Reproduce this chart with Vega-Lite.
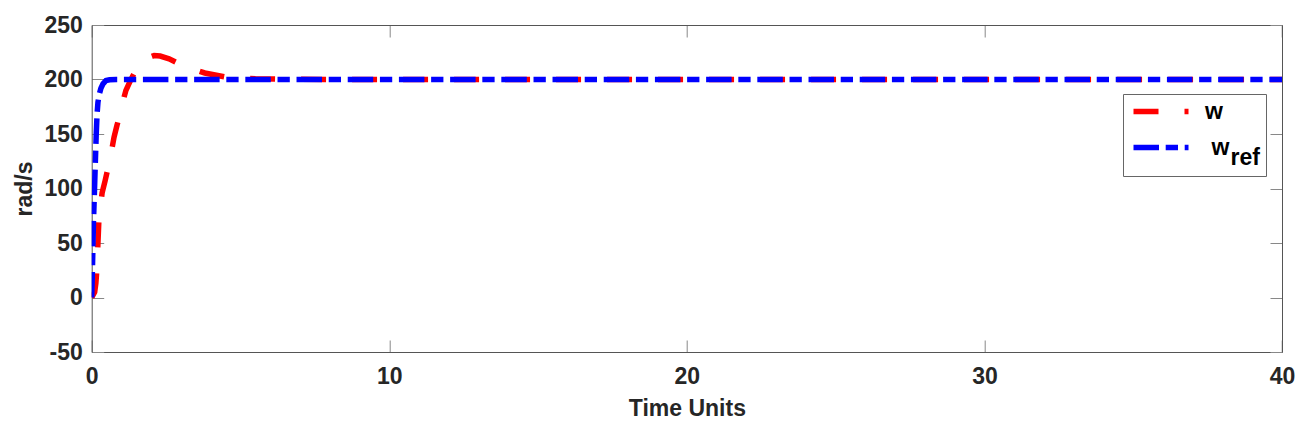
{
  "$schema": "https://vega.github.io/schema/vega-lite/v6.json",
  "width": 1190.3,
  "height": 327,
  "autosize": {"type": "none"},
  "padding": {"left": 91.7, "top": 25, "right": 27, "bottom": 81},
  "background": "white",
  "datasets": {
    "w": [
      {"t": 0, "v": 0, "series": "w"},
      {"t": 0.1, "v": 5, "series": "w"},
      {"t": 0.14, "v": 13, "series": "w"},
      {"t": 0.18, "v": 28, "series": "w"},
      {"t": 0.21, "v": 50, "series": "w"},
      {"t": 0.24, "v": 70, "series": "w"},
      {"t": 0.3, "v": 85, "series": "w"},
      {"t": 0.35, "v": 96, "series": "w"},
      {"t": 0.45, "v": 107, "series": "w"},
      {"t": 0.55, "v": 119, "series": "w"},
      {"t": 0.65, "v": 132, "series": "w"},
      {"t": 0.75, "v": 147, "series": "w"},
      {"t": 0.85, "v": 158, "series": "w"},
      {"t": 0.95, "v": 168, "series": "w"},
      {"t": 1.05, "v": 180, "series": "w"},
      {"t": 1.15, "v": 190, "series": "w"},
      {"t": 1.3, "v": 199, "series": "w"},
      {"t": 1.46, "v": 207.5, "series": "w"},
      {"t": 1.7, "v": 215.5, "series": "w"},
      {"t": 1.9, "v": 220, "series": "w"},
      {"t": 2.1, "v": 222, "series": "w"},
      {"t": 2.3, "v": 221.5, "series": "w"},
      {"t": 2.6, "v": 219, "series": "w"},
      {"t": 2.9, "v": 215, "series": "w"},
      {"t": 3.3, "v": 210.5, "series": "w"},
      {"t": 3.8, "v": 206, "series": "w"},
      {"t": 4.5, "v": 202.3, "series": "w"},
      {"t": 5.5, "v": 200.7, "series": "w"},
      {"t": 6.5, "v": 200.2, "series": "w"},
      {"t": 8, "v": 200, "series": "w"},
      {"t": 40, "v": 200, "series": "w"}
    ],
    "wref": [
      {"t": 0, "v": 0, "series": "w_ref"},
      {"t": 0.02, "v": 20, "series": "w_ref"},
      {"t": 0.04, "v": 45, "series": "w_ref"},
      {"t": 0.06, "v": 70, "series": "w_ref"},
      {"t": 0.09, "v": 95, "series": "w_ref"},
      {"t": 0.12, "v": 122, "series": "w_ref"},
      {"t": 0.15, "v": 148, "series": "w_ref"},
      {"t": 0.18, "v": 168, "series": "w_ref"},
      {"t": 0.21, "v": 179, "series": "w_ref"},
      {"t": 0.25, "v": 186, "series": "w_ref"},
      {"t": 0.31, "v": 192, "series": "w_ref"},
      {"t": 0.38, "v": 196, "series": "w_ref"},
      {"t": 0.48, "v": 199, "series": "w_ref"},
      {"t": 0.6, "v": 199.7, "series": "w_ref"},
      {"t": 0.82, "v": 200, "series": "w_ref"},
      {"t": 40, "v": 200, "series": "w_ref"}
    ]
  },
  "layer": [
    {
      "data": {"name": "w"},
      "mark": {"type": "line", "strokeWidth": 5.5, "clip": true},
      "encoding": {
        "x": {"field": "t", "type": "quantitative", "scale": {"domain": [0, 40], "nice": false, "zero": false},
          "axis": {"orient": "bottom", "values": [0, 10, 20, 30, 40], "title": "Time Units", "tickSize": -12, "labelPadding": 25, "titlePadding": 9, "labelFlush": false}},
        "y": {"field": "v", "type": "quantitative", "scale": {"domain": [-50, 250], "nice": false, "zero": false},
          "axis": {"orient": "left", "values": [-50, 0, 50, 100, 150, 200, 250], "labelExpr": "'' + datum.value", "title": "rad/s", "tickSize": -12, "labelPadding": 21.4, "titlePadding": 7}},
        "color": {"field": "series", "type": "nominal", "scale": {"domain": ["w", "w_ref"], "range": ["#ff0000", "#0000ff"]},
          "legend": {"orient": "none", "legendX": 1031.3, "legendY": 69, "title": null, "symbolType": "M-3.4375,0H3.4375", "symbolSize": 256, "symbolStrokeWidth": 5.5, "symbolOffset": 20.5, "labelOffset": 32.5, "labelExpr": "datum.value === 'w_ref' ? ['\u200b\u00a0w', '\u200b\u00a0\u00a0\u00a0\u00a0ref'] : 'w'", "strokeColor": "#666666", "fillColor": "#ffffff", "padding": 6, "rowPadding": 12}},
        "strokeDash": {"field": "series", "type": "nominal", "scale": {"domain": ["w", "w_ref"], "range": [[25, 26], [25.5, 6.7, 12.3, 6.7]]},
          "legend": {"orient": "none", "legendX": 1031.3, "legendY": 69, "title": null, "symbolType": "M-3.4375,0H3.4375", "symbolSize": 256, "symbolStrokeWidth": 5.5, "symbolOffset": 20.5, "labelOffset": 32.5, "labelExpr": "datum.value === 'w_ref' ? ['\u200b\u00a0w', '\u200b\u00a0\u00a0\u00a0\u00a0ref'] : 'w'", "strokeColor": "#666666", "fillColor": "#ffffff", "padding": 6, "rowPadding": 12}}
      }
    },
    {
      "data": {"name": "wref"},
      "mark": {"type": "line", "strokeWidth": 5.5, "clip": true},
      "encoding": {
        "x": {"field": "t", "type": "quantitative",
          "axis": {"orient": "top", "values": [0, 10, 20, 30, 40], "title": null, "labels": false, "tickSize": -12}},
        "y": {"field": "v", "type": "quantitative",
          "axis": {"orient": "right", "values": [-50, 0, 50, 100, 150, 200, 250], "title": null, "labels": false, "tickSize": -12}},
        "color": {"field": "series", "type": "nominal"},
        "strokeDash": {"field": "series", "type": "nominal"}
      }
    }
  ],
  "config": {
    "view": {"stroke": null},
    "axis": {
      "grid": false,
      "labelFont": "Liberation Sans", "labelFontSize": 23, "labelFontWeight": "bold", "labelColor": "#262626",
      "titleFont": "Liberation Sans", "titleFontSize": 23, "titleFontWeight": "bold", "titleColor": "#262626",
      "domainColor": "#555555", "domainWidth": 1, "tickColor": "#888888", "tickWidth": 1
    },
    "legend": {"labelFont": "Liberation Sans", "labelFontSize": 23, "labelFontWeight": "bold", "labelColor": "#000000"},
    "style": {"guide-label": {"lineHeight": 10}}
  }
}
